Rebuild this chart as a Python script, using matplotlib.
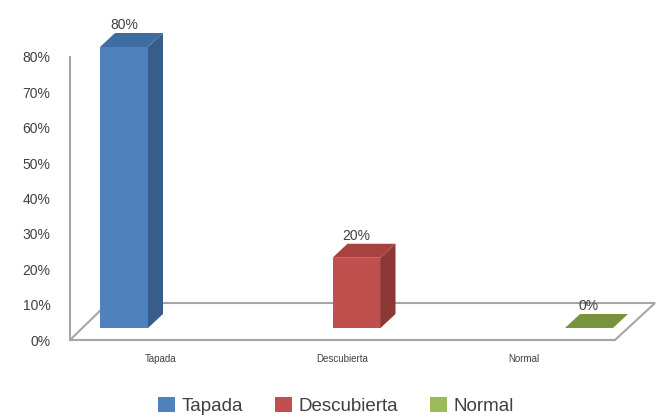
import matplotlib
matplotlib.use("Agg")
import matplotlib.pyplot as plt
from matplotlib.patches import Polygon, Patch

plt.rcParams['font.family'] = ['Liberation Sans', 'DejaVu Sans']

# data
categories = ['Tapada', 'Descubierta', 'Normal']
values = [0.80, 0.20, 0.00]
labels = ['80%', '20%', '0%']
yticks = [0, 0.1, 0.2, 0.3, 0.4, 0.5, 0.6, 0.7, 0.8]
ytick_labels = ['0%', '10%', '20%', '30%', '40%', '50%', '60%', '70%', '80%']

front_cols = ['#4F81BD', '#C0504D', '#9BBB59']
side_cols = ['#385D8A', '#8C3836', '#71893F']
top_cols = ['#3F6CA3', '#A8423F', '#77933C']
grey = '#A6A6A6'
txt = '#404040'

W, H = 656, 418
fig = plt.figure(figsize=(W / 100, H / 100), dpi=100)

# front plane axes: value axis + category labels
ax = fig.add_axes([70 / W, (H - 340) / H, 545 / W, 283 / H])
ax.set_xlim(-0.5, len(categories) - 0.5)
ax.set_ylim(0, 0.8)
ax.set_yticks(yticks)
ax.set_yticklabels(ytick_labels, fontsize=10, color=txt)
ax.set_xticks(range(len(categories)))
ax.set_xticklabels(categories, fontsize=7, color=txt)
ax.tick_params(axis='y', length=0, pad=14)
ax.tick_params(axis='x', length=0, pad=10)
for s in ['top', 'right']:
    ax.spines[s].set_visible(False)
for s in ['left', 'bottom']:
    ax.spines[s].set_color(grey)
    ax.spines[s].set_linewidth(1.5)
ax.patch.set_alpha(0)

# floor (drawn in axes fraction)
back_y = 37 / 283
floor = Polygon([(0, 0), (1, 0), (585 / 545, back_y), (38 / 545, back_y)],
                closed=True, facecolor='white', edgecolor=grey, lw=1.5,
                transform=ax.transAxes, clip_on=False, zorder=1)
ax.add_patch(floor)

# bar axes (mid depth plane)
step = 232.5
c0 = 124
bx = fig.add_axes([70 / W, (H - 328) / H, 570 / W, 281 / H])
bx.set_xlim((70 - c0) / step, (640 - c0) / step)
bx.set_ylim(0, 0.8)
bx.axis('off')
bx.patch.set_alpha(0)

w = 48 / step
DX = 15 / step
DY = 14 * 0.8 / 281
xs = list(range(len(categories)))

bx.bar(xs, values, width=w, color=front_cols, zorder=3, clip_on=False)
for x, v, sc, tc in zip(xs, values, side_cols, top_cols):
    r = x + w / 2
    l = x - w / 2
    if v > 0:
        bx.add_patch(Polygon([(r, 0), (r + DX, DY), (r + DX, v + DY), (r, v)],
                             closed=True, facecolor=sc, edgecolor='none',
                             zorder=3, clip_on=False))
    bx.add_patch(Polygon([(l, v), (l + DX, v + DY), (r + DX, v + DY), (r, v)],
                         closed=True, facecolor=tc, edgecolor='none',
                         zorder=3, clip_on=False))

for x, v, lab in zip(xs, values, labels):
    bx.annotate(lab, (x, v), xytext=(0, 16), textcoords='offset points',
                ha='center', va='center', fontsize=10, color=txt,
                annotation_clip=False)

handles = [Patch(facecolor=c, edgecolor='none') for c in front_cols]
fig.legend(handles, categories, loc='center', bbox_to_anchor=(336 / W, 1 - 406 / H),
           ncol=3, frameon=False, fontsize=13.5, handlelength=0.9,
           handleheight=0.8, handletextpad=0.35, columnspacing=1.7,
           labelcolor=txt)

fig.savefig('out.png', dpi=100)
